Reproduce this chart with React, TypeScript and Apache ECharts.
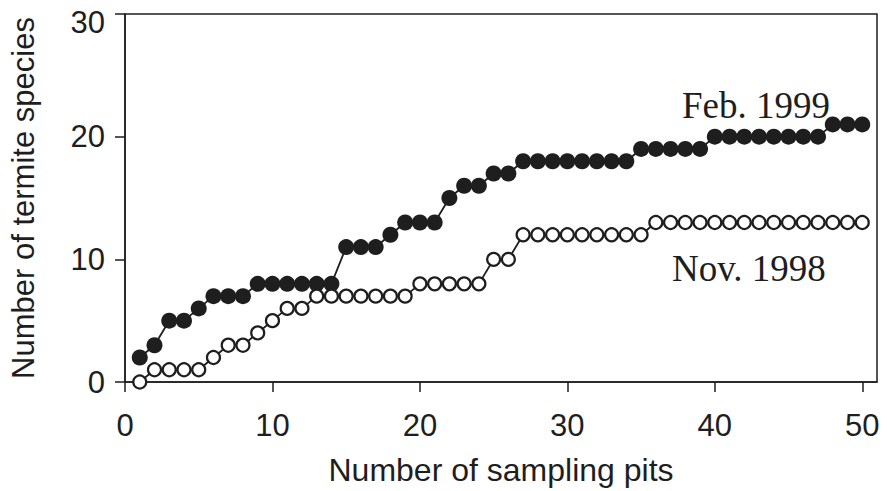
import React, { useEffect, useRef } from "react";
import * as echarts from "echarts";

const pits = [
  1, 2, 3, 4, 5, 6, 7, 8, 9, 10,
  11, 12, 13, 14, 15, 16, 17, 18, 19, 20,
  21, 22, 23, 24, 25, 26, 27, 28, 29, 30,
  31, 32, 33, 34, 35, 36, 37, 38, 39, 40,
  41, 42, 43, 44, 45, 46, 47, 48, 49, 50,
];

const feb1999 = [
  2, 3, 5, 5, 6, 7, 7, 7, 8, 8,
  8, 8, 8, 8, 11, 11, 11, 12, 13, 13,
  13, 15, 16, 16, 17, 17, 18, 18, 18, 18,
  18, 18, 18, 18, 19, 19, 19, 19, 19, 20,
  20, 20, 20, 20, 20, 20, 20, 21, 21, 21,
];

const nov1998 = [
  0, 1, 1, 1, 1, 2, 3, 3, 4, 5,
  6, 6, 7, 7, 7, 7, 7, 7, 7, 8,
  8, 8, 8, 8, 10, 10, 12, 12, 12, 12,
  12, 12, 12, 12, 12, 13, 13, 13, 13, 13,
  13, 13, 13, 13, 13, 13, 13, 13, 13, 13,
];

const xTicks = [0, 10, 20, 30, 40, 50];
const yTicks = [0, 10, 20, 30];

const INK = "#1e1e1e";
const SANS = "'Liberation Sans', Arial, sans-serif";
const SERIF = "'Liberation Serif', 'Times New Roman', serif";

export default function App() {
  const ref = useRef<HTMLDivElement>(null);

  useEffect(() => {
    if (!ref.current) return;
    const chart = echarts.init(ref.current, null, { renderer: "svg" });
    const febData = pits.map((p, i) => [p, feb1999[i]]);
    const novData = pits.map((p, i) => [p, nov1998[i]]);
    const yMax = yTicks[yTicks.length - 1];

    chart.setOption({
      animation: false,
      backgroundColor: "#ffffff",
      grid: {
        left: 120,
        right: 10,
        top: 14,
        bottom: 109,
        show: true,
        borderColor: INK,
        borderWidth: 1.5,
        backgroundColor: "transparent",
      },
      xAxis: {
        type: "value",
        min: 0,
        max: 51,
        interval: 10,
        name: "Number of sampling pits",
        nameLocation: "middle",
        nameGap: 72,
        nameTextStyle: { fontFamily: SANS, fontSize: 32, color: INK },
        axisLine: { show: true, onZero: false, lineStyle: { color: INK, width: 1.5 } },
        axisTick: {
          show: true,
          inside: false,
          length: 10,
          customValues: xTicks,
          lineStyle: { color: INK, width: 1.5 },
        },
        axisLabel: {
          customValues: xTicks,
          margin: 28,
          fontFamily: SANS,
          fontSize: 31,
          color: INK,
        },
        splitLine: { show: false },
      },
      yAxis: {
        type: "value",
        min: 0,
        max: yMax,
        interval: 10,
        name: "Number of termite species",
        nameLocation: "middle",
        nameRotate: 90,
        nameGap: 86,
        nameTextStyle: { fontFamily: SANS, fontSize: 31, color: INK },
        axisLine: { show: true, lineStyle: { color: INK, width: 1.5 } },
        axisTick: {
          show: true,
          inside: false,
          length: 10,
          customValues: yTicks,
          lineStyle: { color: INK, width: 1.5 },
        },
        axisLabel: {
          customValues: yTicks,
          margin: 20,
          fontFamily: SANS,
          fontSize: 31,
          color: INK,
          formatter: (v: number) => (v === yMax ? `{t|${v}}` : `${v}`),
          rich: {
            t: {
              fontFamily: SANS,
              fontSize: 31,
              color: INK,
              padding: [16, 0, 0, 0],
            },
          },
        },
        splitLine: { show: false },
      },
      series: [
        {
          name: "Feb. 1999",
          type: "line",
          data: febData,
          symbol: "circle",
          symbolSize: 16,
          showAllSymbol: true,
          lineStyle: { color: INK, width: 1.8 },
          itemStyle: { color: INK, borderColor: INK, borderWidth: 0 },
          z: 2,
        },
        {
          name: "Nov. 1998",
          type: "line",
          data: novData,
          symbol: "circle",
          symbolSize: 13,
          showAllSymbol: true,
          lineStyle: { color: INK, width: 1.8 },
          itemStyle: { color: "#ffffff", borderColor: INK, borderWidth: 2.2 },
          z: 3,
        },
      ],
      graphic: [
        {
          type: "text",
          left: 682,
          top: 87,
          style: {
            text: "Feb. 1999",
            font: `37px ${SERIF}`,
            fill: INK,
          },
        },
        {
          type: "text",
          left: 672,
          top: 250,
          style: {
            text: "Nov. 1998",
            font: `37px ${SERIF}`,
            fill: INK,
          },
        },
      ],
    });

    return () => chart.dispose();
  }, []);

  return (
    <div
      ref={ref}
      style={{ position: "fixed", left: 0, top: 0, width: 887, height: 491, background: "#fff" }}
    />
  );
}
